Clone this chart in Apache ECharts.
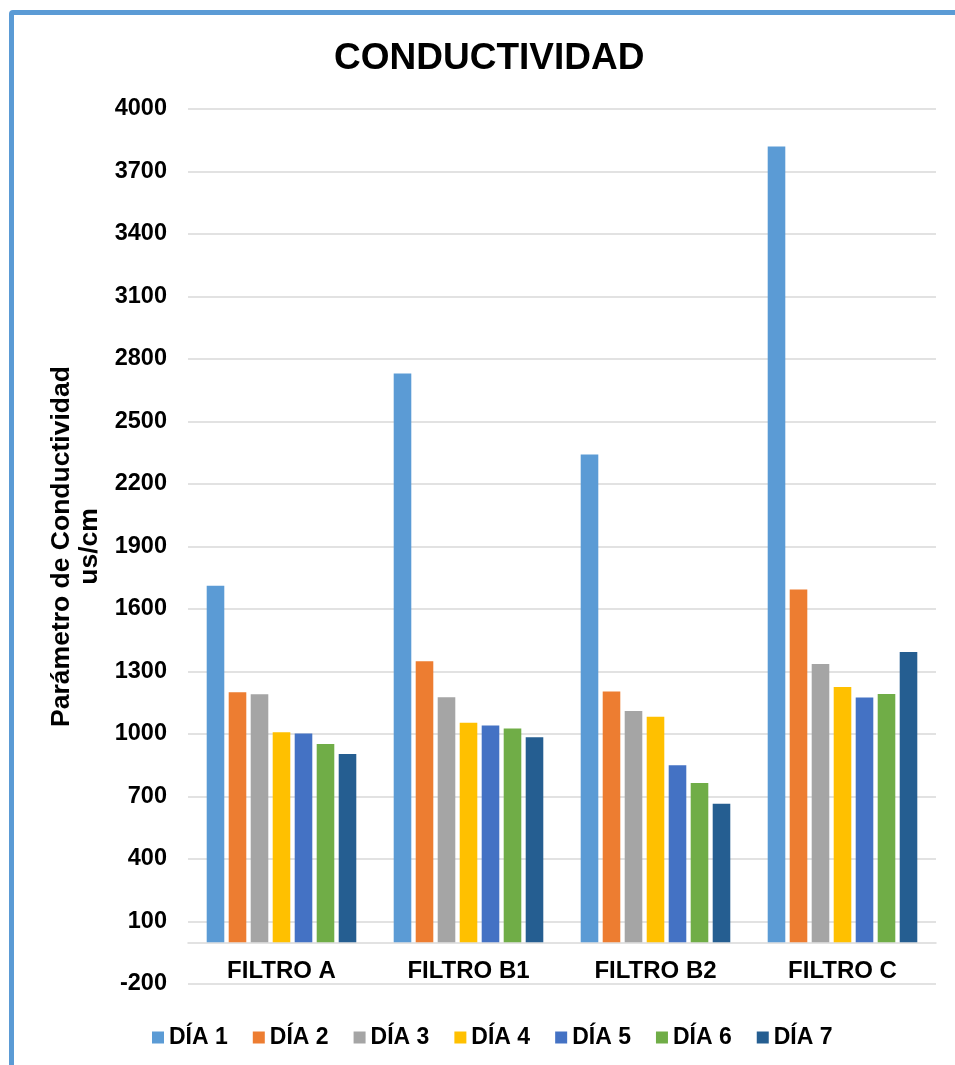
<!DOCTYPE html>
<html>
<head>
<meta charset="utf-8">
<script src="https://cdn.jsdelivr.net/npm/echarts@6/dist/echarts.min.js"></script>
<style>
  html, body { margin: 0; padding: 0; background: #fff; }
  #frame {
    position: absolute; left: 9px; top: 10px; width: 1000px; height: 1100px;
    border: 5px solid #5B9BD5; border-radius: 4px; box-sizing: border-box;
  }
  #chart { position: absolute; left: 0; top: 0; width: 955px; height: 1065px; }
</style>
</head>
<body>
<div id="frame"></div>
<div id="chart"></div>
<script>
// Conductivity per filter, one series per day
const categories = ['FILTRO A', 'FILTRO B1', 'FILTRO B2', 'FILTRO C'];
const dayNames = ['DÍA 1', 'DÍA 2', 'DÍA 3', 'DÍA 4', 'DÍA 5', 'DÍA 6', 'DÍA 7'];
const dia1 = [1712, 2730, 2342, 3820];
const dia2 = [1201, 1349, 1204, 1694];
const dia3 = [1191, 1177, 1110, 1336];
const dia4 = [1008, 1054, 1083, 1226];
const dia5 = [1003, 1041, 850, 1175];
const dia6 = [952, 1026, 765, 1192];
const dia7 = [904, 984, 665, 1394];
const dayColors = ['#5B9BD5', '#ED7D31', '#A5A5A5', '#FFC000', '#4472C4', '#70AD47', '#255E91'];

const font = '"Liberation Sans", Arial, sans-serif';
const seriesValues = [dia1, dia2, dia3, dia4, dia5, dia6, dia7];

const chart = echarts.init(document.getElementById('chart'));
chart.setOption({
  animation: false,
  color: dayColors,
  title: {
    text: 'CONDUCTIVIDAD',
    left: 329,
    top: 35,
    textStyle: { fontFamily: font, fontWeight: 'bold', fontSize: 37, color: '#000' }
  },
  legend: {
    bottom: 11,
    left: 147,
    icon: 'rect',
    itemWidth: 12,
    itemHeight: 12,
    itemGap: 25,
    textStyle: { fontFamily: font, fontWeight: 'bold', fontSize: 23, color: '#000' },
    data: dayNames
  },
  grid: { left: 188, right: 19, top: 109, bottom: 81 },
  xAxis: {
    type: 'category',
    data: categories,
    axisLine: { onZero: true, lineStyle: { color: '#D9D9D9', width: 1.5 } },
    axisTick: { show: false },
    // labels sit just under the zero line, above the lowest gridline
    axisLabel: { fontFamily: font, fontWeight: 'bold', fontSize: 24, color: '#000', margin: -25 }
  },
  yAxis: {
    type: 'value',
    min: -200,
    max: 4000,
    interval: 300,
    name: 'Parámetro de Conductividad\nus/cm',
    nameLocation: 'middle',
    nameRotate: 90,
    nameGap: 82,
    nameTextStyle: { fontFamily: font, fontWeight: 'bold', fontSize: 26.5, color: '#000', lineHeight: 28 },
    axisLine: { show: false },
    axisTick: { show: false },
    axisLabel: {
      fontFamily: font, fontWeight: 'bold', fontSize: 23.5, color: '#000', margin: 21,
      formatter: (v) => String(v)
    },
    splitLine: { lineStyle: { color: '#D9D9D9', width: 1.5 } }
  },
  series: dayNames.map((name, i) => ({
    name: name,
    type: 'bar',
    data: seriesValues[i],
    barGap: '25%',
    barCategoryGap: '20%'
  }))
});
</script>
</body>
</html>
